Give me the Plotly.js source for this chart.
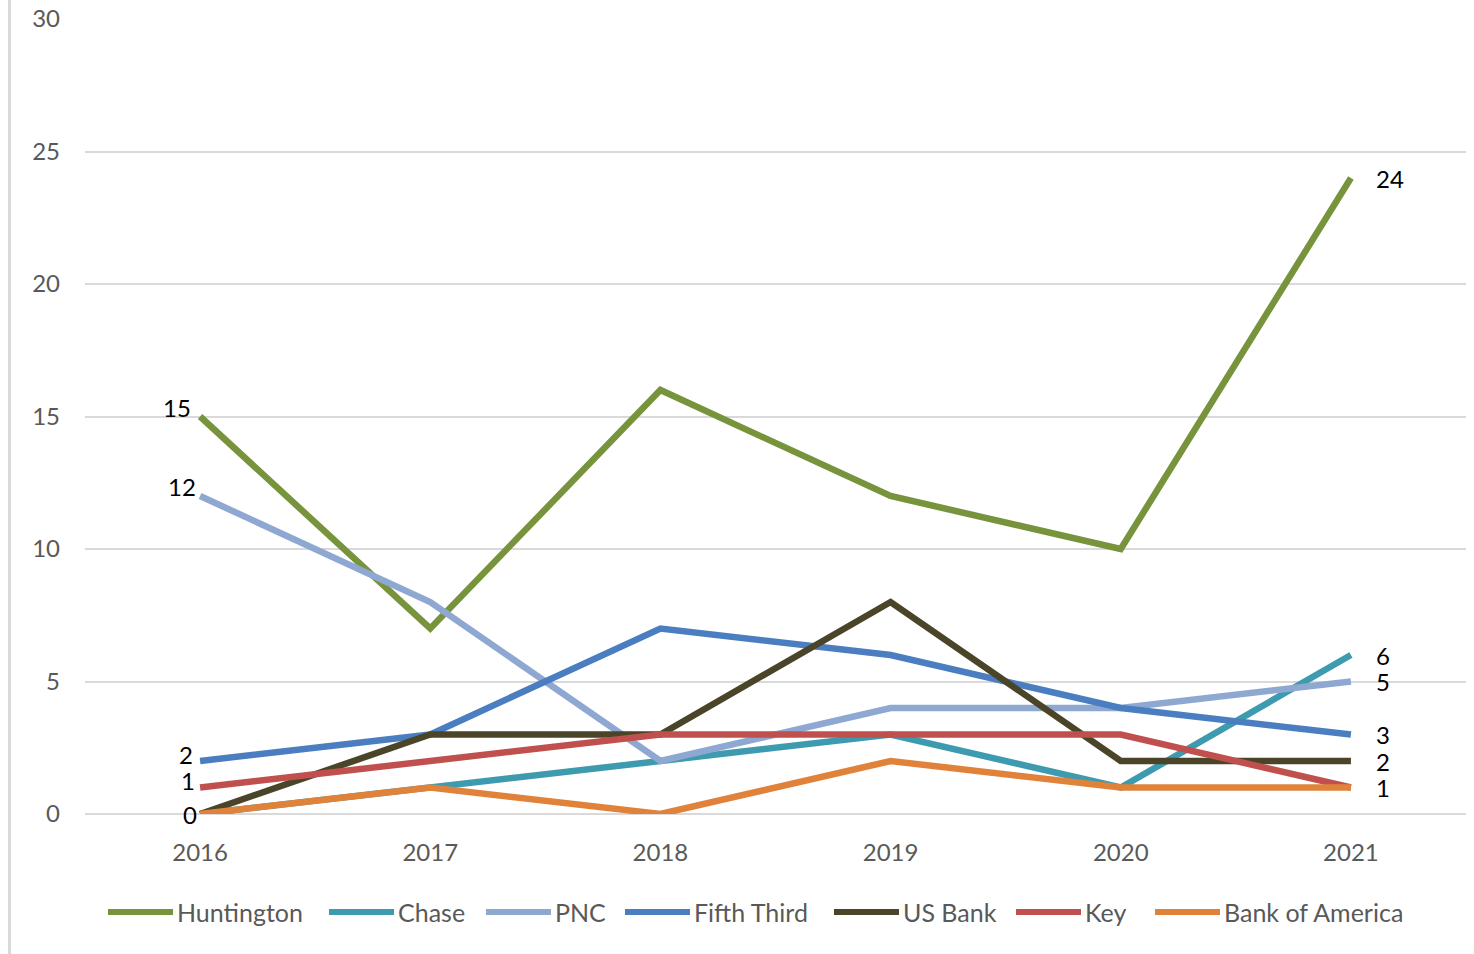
<!DOCTYPE html>
<html>
<head>
<meta charset="utf-8">
<script src="https://cdn.plot.ly/plotly-3.0.1.min.js"></script>
<style>
  html, body { margin: 0; padding: 0; background: #fff; }
  #chart { width: 1474px; height: 954px; position: relative; }
  #edge { position: absolute; left: 8px; top: 0; width: 3px; height: 954px; background: #d9d9d9; z-index: 5; }
</style>
</head>
<body>
<div id="edge"></div>
<div id="chart"></div>
<script>
const years = ['2016', '2017', '2018', '2019', '2020', '2021'];
const seriesNames = ['Huntington', 'Chase', 'PNC', 'Fifth Third', 'US Bank', 'Key', 'Bank of America'];
const huntington = [15, 7, 16, 12, 10, 24];
const chase = [0, 1, 2, 3, 1, 6];
const pnc = [12, 8, 2, 4, 4, 5];
const fifthThird = [2, 3, 7, 6, 4, 3];
const usBank = [0, 3, 3, 8, 2, 2];
const key = [1, 2, 3, 3, 3, 1];
const bankOfAmerica = [0, 1, 0, 2, 1, 1];
const seriesValues = [huntington, chase, pnc, fifthThird, usBank, key, bankOfAmerica];
const colors = ['#77933C', '#3E9BAF', '#8FA8D2', '#4A7EC0', '#4A4529', '#C0504D', '#E0823A'];

// which series show a data label at the first / last point
const showFirst = [true, false, true, true, true, true, false];
const firstXShift = [-8, 0, -3, -6, -2, -4, 0];
const firstYShift = [9, 0, 10, 7, 0, 7, 0];
const showLast = [true, true, true, true, true, true, false];

// custom legend positions (pixel x of sample start)
const legendX = [108, 329, 486, 625, 834, 1016, 1155];

const L = 85, R = 8, T = 19, B = 140, W = 1474, H = 954;
const pw = W - L - R, ph = H - T - B;
const px = x => (x - L) / pw;
const py = y => (H - B - y) / ph;

const traces = seriesNames.map((name, i) => ({
  type: 'scatter', mode: 'lines', name: name,
  x: years, y: seriesValues[i],
  line: { color: colors[i], width: 6.5 },
  showlegend: false, hoverinfo: 'x+y+name'
}));

const annotations = [];
const shapes = [];
const labelFont = { family: 'Lato, sans-serif', size: 24, color: '#000' };
const lastIdx = years.length - 1;
seriesNames.forEach((name, i) => {
  const v = seriesValues[i];
  if (showFirst[i]) {
    annotations.push({ x: 0, y: v[0], xref: 'x', yref: 'y', text: String(v[0]),
      showarrow: false, xanchor: 'right', yanchor: 'middle', xshift: firstXShift[i], yshift: firstYShift[i],
      font: labelFont, borderpad: 0 });
  }
  if (showLast[i]) {
    annotations.push({ x: lastIdx, y: v[lastIdx], xref: 'x', yref: 'y', text: String(v[lastIdx]),
      showarrow: false, xanchor: 'left', yanchor: 'middle', xshift: 24, yshift: 0,
      font: labelFont, borderpad: 0 });
  }
  // legend
  const ly = 912;
  shapes.push({ type: 'line', xref: 'paper', yref: 'paper',
    x0: px(legendX[i]), x1: px(legendX[i] + 65), y0: py(ly), y1: py(ly),
    line: { color: colors[i], width: 6 } });
  annotations.push({ xref: 'paper', yref: 'paper', x: px(legendX[i] + 67), y: py(ly),
    text: name, showarrow: false, xanchor: 'left', yanchor: 'middle',
    font: { family: 'Lato, sans-serif', size: 25, color: '#595959' } });
});

const layout = {
  width: W, height: H,
  margin: { l: L, r: R, t: T, b: B },
  paper_bgcolor: '#fff', plot_bgcolor: '#fff',
  showlegend: false,
  xaxis: {
    type: 'category', range: [-0.5, 5.5], showgrid: false, zeroline: false, showline: false,
    ticks: '', tickfont: { family: 'Lato, sans-serif', size: 24, color: '#595959' },
    ticklabelstandoff: 22
  },
  yaxis: {
    range: [0, 30], dtick: 5, tick0: 0, showgrid: true, gridcolor: '#d9d9d9', gridwidth: 2,
    zeroline: true, zerolinecolor: '#d9d9d9', zerolinewidth: 2, showline: false, ticks: '',
    tickfont: { family: 'Lato, sans-serif', size: 24, color: '#595959' },
    ticklabelstandoff: 24
  },
  annotations: annotations,
  shapes: shapes
};

Plotly.newPlot('chart', traces, layout, { displayModeBar: false, staticPlot: true });
</script>
</body>
</html>
